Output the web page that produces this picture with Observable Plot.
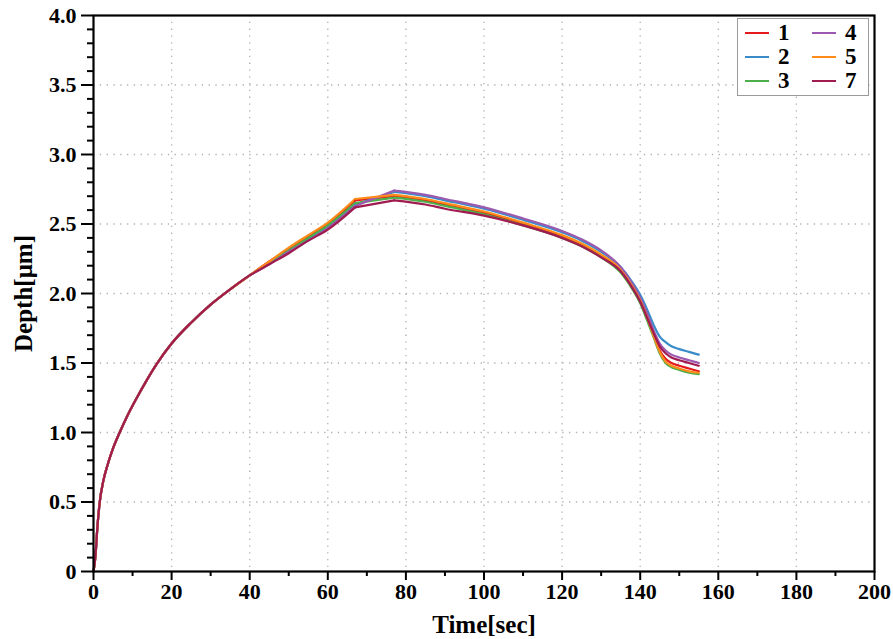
<!DOCTYPE html>
<html>
<head>
<meta charset="utf-8">
<script src="https://cdn.jsdelivr.net/npm/d3@7"></script>
<script src="https://cdn.jsdelivr.net/npm/@observablehq/plot@0.6"></script>
<style>
  html, body { margin: 0; padding: 0; background: white; }
  #wrap { position: relative; width: 893px; height: 639px; }
  #legend { position: absolute; left: 737px; top: 18px; width: 132px; height: 78px;
            border: 1.5px solid #9a9a9a; background: white; box-sizing: border-box; }
  .item { position: absolute; display: flex; align-items: center; height: 22px; }
  .swatch { width: 24px; height: 2.5px; margin-right: 9px; }
  .lab { font-family: "Liberation Serif", "Times New Roman", serif; font-weight: bold; font-size: 23px; line-height: 22px; color: black; }
</style>
</head>
<body>
<div id="wrap"><div id="legend"></div></div>
<script>
// ---- data ----
const time = [0, 0.5, 1, 1.6, 2.5, 3.7, 5, 6.7, 8.5, 11, 13.5, 16, 20, 25, 30, 35, 40,
  45, 50, 55, 60, 67, 77, 85, 90, 100, 110, 120, 125, 130, 135, 138, 140, 142, 143.5,
  145, 146.5, 148, 150, 152.5, 155];

const early = [0, 0.11, 0.32, 0.5, 0.65, 0.775, 0.885, 1.0, 1.11, 1.245, 1.37, 1.485, 1.64,
  1.79, 1.92, 2.03, 2.13];

const s1 = early.concat([2.23, 2.32, 2.41, 2.50, 2.67, 2.70, 2.67, 2.64, 2.58, 2.50, 2.41,
  2.35, 2.27, 2.16, 2.04, 1.94, 1.80, 1.69, 1.59, 1.53, 1.50, 1.48, 1.46, 1.44]);
const s2 = early.concat([2.22, 2.30, 2.39, 2.48, 2.64, 2.73, 2.70, 2.67, 2.61, 2.53, 2.44,
  2.38, 2.30, 2.19, 2.08, 1.99, 1.87, 1.77, 1.69, 1.65, 1.62, 1.60, 1.58, 1.56]);
const s3 = early.concat([2.22, 2.31, 2.40, 2.49, 2.65, 2.69, 2.66, 2.63, 2.57, 2.49, 2.40,
  2.34, 2.26, 2.15, 2.03, 1.93, 1.79, 1.68, 1.57, 1.50, 1.47, 1.45, 1.43, 1.42]);
const s4 = early.concat([2.21, 2.30, 2.38, 2.47, 2.63, 2.74, 2.71, 2.68, 2.62, 2.54, 2.45,
  2.39, 2.31, 2.19, 2.07, 1.97, 1.84, 1.73, 1.64, 1.59, 1.56, 1.54, 1.52, 1.50]);
const s5 = early.concat([2.23, 2.33, 2.42, 2.51, 2.68, 2.71, 2.68, 2.65, 2.59, 2.51, 2.42,
  2.36, 2.28, 2.17, 2.05, 1.95, 1.81, 1.69, 1.58, 1.51, 1.48, 1.46, 1.44, 1.43]);
const s7 = early.concat([2.21, 2.29, 2.38, 2.46, 2.62, 2.67, 2.64, 2.61, 2.56, 2.49, 2.40,
  2.34, 2.26, 2.16, 2.04, 1.94, 1.81, 1.71, 1.62, 1.57, 1.54, 1.52, 1.50, 1.48]);

const seriesNames = ["1", "2", "3", "4", "5", "7"];
const seriesValues = [s1, s2, s3, s4, s5, s7];
const seriesColors = ["#e41a1c", "#3a8cc9", "#4daf4a", "#9b59b0", "#ff8c1a", "#a01c50"];

// time positions of the two visible corners of the curves (rise end and peak)
const cornerTimes = [67, 77];

const xTicks = [0, 20, 40, 60, 80, 100, 120, 140, 160, 180, 200];
const xTickLabels = ["0", "20", "40", "60", "80", "100", "120", "140", "160", "180", "200"];
const xMinor = [10, 30, 50, 70, 90, 110, 130, 150, 170, 190];
const yTicks = [0, 0.5, 1, 1.5, 2, 2.5, 3, 3.5, 4];
const yTickLabels = ["0", "0.5", "1.0", "1.5", "2.0", "2.5", "3.0", "3.5", "4.0"];
const yMinor = d3.range(0, 41).map(i => i / 10).filter(v => Math.round(v * 10) % 5 !== 0);
const xLabel = "Time[sec]";
const yLabel = "Depth[μm]";

// ---- build rows ----
const rows = [];
seriesNames.forEach((name, k) => {
  seriesValues[k].forEach((v, i) => rows.push({t: time[i], d: v, s: name}));
});
const segA = rows.filter(r => r.t <= cornerTimes[0]);
const segB = rows.filter(r => r.t >= cornerTimes[0] && r.t <= cornerTimes[1]);
const segC = rows.filter(r => r.t >= cornerTimes[1]);

const font = "Liberation Serif, Times New Roman, serif";
const lineOpts = {x: "t", y: "d", z: "s", stroke: "s", strokeWidth: 2.2};
const chart = Plot.plot({
  width: 893,
  height: 639,
  marginLeft: 93,
  marginRight: 19,
  marginTop: 15,
  marginBottom: 68,
  x: {domain: [0, 200]},
  y: {domain: [0, 4]},
  color: {domain: seriesNames, range: seriesColors},
  style: {fontFamily: font, fontWeight: "bold", fontSize: "22px", color: "black", background: "white"},
  marks: [
    Plot.gridX(xTicks.slice(1, -1), {stroke: "#b0b0b0", strokeOpacity: 1, strokeWidth: 1.3, strokeDasharray: "1.3,5.5"}),
    Plot.gridY(yTicks.slice(1, -1), {stroke: "#b0b0b0", strokeOpacity: 1, strokeWidth: 1.3, strokeDasharray: "1.3,5.5"}),
    Plot.line(segA, {...lineOpts, curve: "monotone-x"}),
    Plot.line(segB, {...lineOpts, curve: "linear"}),
    Plot.line(segC, {...lineOpts, curve: "monotone-x"}),
    Plot.axisX(xMinor, {tickSize: 5, strokeWidth: 2, tickFormat: () => "", label: null}),
    Plot.axisX(xTicks, {tickSize: 9, tickPadding: 3, strokeWidth: 2,
      tickFormat: d => xTickLabels[xTicks.indexOf(d)], label: null}),
    Plot.axisY(yMinor, {tickSize: 6, strokeWidth: 2, tickFormat: () => "", label: null}),
    Plot.axisY(yTicks, {tickSize: 12, tickPadding: 5, strokeWidth: 2,
      tickFormat: d => yTickLabels[yTicks.indexOf(d)], label: null}),
    Plot.frame({stroke: "black", strokeWidth: 2.2}),
    Plot.text([xLabel], {frameAnchor: "bottom", lineAnchor: "middle", textAnchor: "middle", dy: 53,
      fontSize: 25, fontWeight: "bold", fill: "black"}),
    Plot.text([yLabel], {frameAnchor: "left", lineAnchor: "middle", textAnchor: "middle", dx: -70, rotate: -90,
      fontSize: 25, fontWeight: "bold", fill: "black"})
  ]
});
const wrap = document.getElementById("wrap");
wrap.insertBefore(chart, wrap.firstChild);

// ---- legend ----
const legend = document.getElementById("legend");
seriesNames.forEach((name, k) => {
  const col = Math.floor(k / 3), row = k % 3;
  const item = document.createElement("div");
  item.className = "item";
  item.style.left = (7 + col * 67) + "px";
  item.style.top = (3 + row * 24) + "px";
  const sw = document.createElement("div");
  sw.className = "swatch";
  sw.style.background = seriesColors[k];
  const lab = document.createElement("span");
  lab.className = "lab";
  lab.textContent = name;
  item.appendChild(sw);
  item.appendChild(lab);
  legend.appendChild(item);
});
</script>
</body>
</html>
